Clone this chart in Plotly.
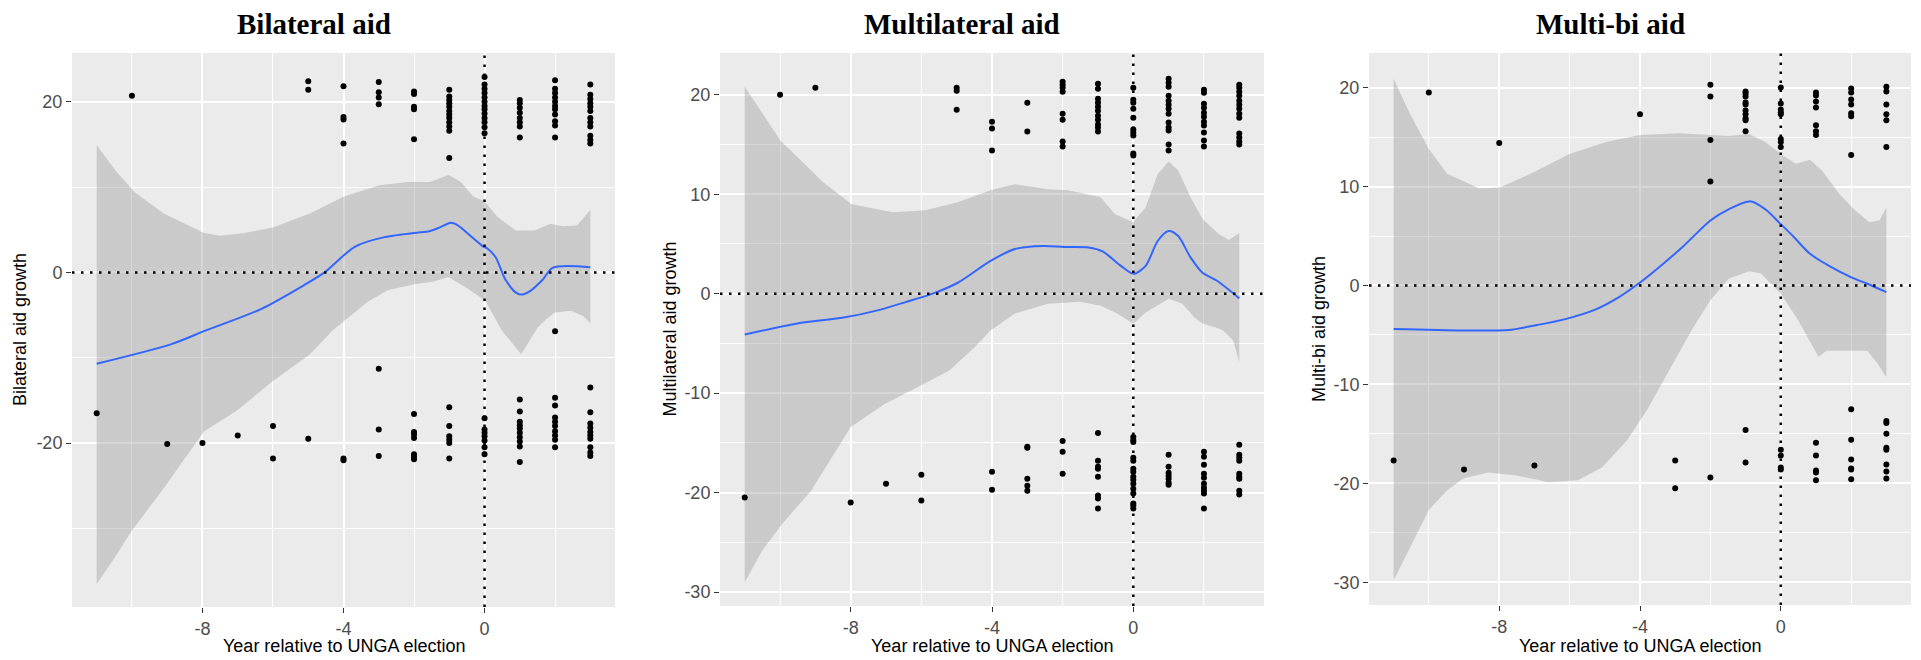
import plotly.graph_objects as go

# ---------------- DATA ----------------
years = [-11, -10, -9, -8, -7, -6, -5, -4, -3, -2, -1, 0, 1, 2, 3]

# Bilateral aid: observed growth by year (top cluster + bottom cluster)
bi_vals = [
    [-16.5],
    [20.7],
    [-20.1],
    [-20.0],
    [-19.1],
    [-18.0, -21.8],
    [22.4, 21.4, -19.5],
    [21.8, 18.2, 17.9, 15.1, -21.8, -22.0],
    [22.3, 21.1, 20.5, 19.7, -11.3, -18.4, -21.5],
    [21.2, 20.9, 19.4, 19.1, 15.6, -16.6, -18.7, -19.0, -19.4, -21.3, -21.6, -21.9],
    [21.4, 20.6, 20.2, 19.8, 19.4, 18.9, 18.5, 18.1, 17.6, 17.1, 16.6, 13.4,
     -15.8, -18.0, -19.2, -19.6, -20.0, -21.8],
    [22.9, 22.0, 21.5, 21.0, 20.5, 20.0, 19.5, 19.1, 18.6, 18.1, 17.6, 17.0, 16.3,
     -17.1, -18.4, -18.8, -19.2, -19.7, -20.5, -21.3],
    [20.2, 19.8, 19.3, 18.7, 18.1, 17.6, 17.1, 15.8,
     -14.9, -16.3, -17.5, -17.9, -18.3, -18.8, -19.3, -19.8, -20.4, -22.2],
    [22.5, 21.5, 21.0, 20.5, 20.0, 19.5, 19.1, 18.5, 17.7, 17.2, 15.8,
     -6.9, -14.7, -15.6, -17.0, -17.5, -18.0, -18.6, -19.1, -19.6, -20.5],
    [22.0, 20.8, 20.3, 19.8, 19.4, 18.9, 18.1, 17.6, 17.1, 16.0, 15.5, 15.1,
     -13.5, -16.4, -17.7, -18.2, -18.7, -19.1, -19.5, -20.5, -21.1, -21.5],
]
bi_fit_x = [-11, -8.88, -7.9, -6.34, -5.12, -4.54, -3.68, -2.87, -1.83, -1.59, -1.25, -0.96,
            -0.79, -0.32, -0.03, 0.08, 0.31, 0.6, 0.9, 1.07, 1.29, 1.64, 1.94, 3.0]
bi_fit_y = [-10.7, -8.4, -6.8, -4.3, -1.5, 0.0, 3.0, 4.1, 4.7, 4.8, 5.3, 5.8,
            5.6, 4.0, 3.0, 2.8, 1.8, -0.9, -2.4, -2.6, -2.2, -0.9, 0.55, 0.6]
bi_up_x = [-11, -10.44, -9.92, -9.1, -7.95, -7.5, -6.8, -5.99, -4.95, -3.99, -2.98, -2.17,
           -1.54, -1.02, -0.67, -0.32, 0, 0.37, 0.89, 1.41, 1.87, 2.22, 2.62, 3.0]
bi_up_y = [14.9, 11.8, 9.4, 6.9, 4.6, 4.3, 4.6, 5.3, 6.9, 8.9, 10.2, 10.6,
           10.6, 11.4, 10.6, 8.9, 8.3, 6.5, 4.9, 4.9, 5.7, 5.4, 5.5, 7.3]
bi_lo_x = [-11, -10.5, -10.03, -9.1, -7.95, -7.03, -5.99, -4.95, -4.31, -3.97, -3.33, -2.75,
           -1.99, -1.48, -1.02, -0.55, 0.02, 0.49, 1.04, 1.5, 1.75, 1.99, 2.45, 2.8, 3.0]
bi_lo_y = [-36.5, -33.5, -30.4, -25.3, -18.6, -16.2, -12.7, -9.6, -6.8, -5.6, -3.5, -2.1,
           -1.4, -1.1, -0.55, -1.7, -3.3, -6.8, -9.6, -6.5, -5.5, -4.7, -4.5, -5.1, -6.0]

# Multilateral aid
mu_vals = [
    [-20.5],
    [20.0],
    [20.7],
    [-21.0],
    [-19.1],
    [-18.2, -20.8],
    [20.7, 20.4, 18.5],
    [17.3, 16.6, 14.4, -17.9, -19.7],
    [19.2, 16.3, -15.4, -15.5, -18.6, -19.3, -19.8],
    [21.3, 21.0, 20.7, 20.3, 18.1, 17.5, 15.3, 14.8, -14.8, -15.9, -18.1],
    [21.1, 20.6, 19.6, 19.2, 18.8, 18.4, 17.9, 17.5, 17.0, 16.7, 16.3,
     -14.0, -16.8, -17.4, -17.6, -18.4, -20.3, -20.6, -21.6],
    [20.7, 19.5, 19.2, 18.6, 17.7, 16.5, 16.2, 15.9, 14.1, 13.9,
     -14.4, -14.7, -14.9, -16.5, -16.8, -17.6, -17.9, -18.4, -18.7, -19.1, -19.6, -20.1,
     -21.1, -21.3, -21.6],
    [21.6, 21.2, 20.8, 19.9, 19.4, 19.0, 18.6, 18.1, 17.2, 16.7, 16.4, 15.0, 14.4,
     -16.2, -17.4, -18.0, -18.3, -18.6, -19.0, -19.2],
    [20.5, 20.2, 19.1, 18.7, 18.2, 17.8, 17.3, 16.9, 16.2, 15.4, 14.8,
     -15.9, -16.4, -17.2, -18.1, -18.5, -19.1, -19.5, -19.8, -20.1, -21.6],
    [21.0, 20.7, 20.3, 19.9, 19.4, 19.0, 18.6, 18.1, 17.7, 16.1, 15.7, 15.3, 15.0,
     -15.2, -16.2, -16.5, -16.8, -18.1, -18.4, -18.6, -19.8, -20.2],
]
mu_fit_x = [-11, -9.35, -8.2, -7.27, -6.47, -5.66, -4.97, -4.04, -3.35, -2.54, -1.96, -1.27,
            -0.87, -0.35, 0, 0.35, 0.69, 1.0, 1.27, 1.62, 1.96, 2.37, 3.0]
mu_fit_y = [-4.1, -2.9, -2.4, -1.7, -0.87, 0.03, 1.1, 3.3, 4.5, 4.8, 4.7, 4.65,
            4.25, 2.8, 2.0, 2.8, 5.3, 6.3, 5.8, 3.65, 2.1, 1.3, -0.47]
mu_up_x = [-11, -10.5, -9.99, -9.35, -8.78, -7.97, -6.81, -5.89, -4.97, -4.04, -3.35, -2.42,
           -1.85, -0.92, -0.52, 0, 0.35, 0.69, 1.0, 1.27, 1.62, 1.96, 2.42, 2.71, 3.0]
mu_up_y = [20.8, 18.1, 15.4, 13.2, 11.2, 9.0, 8.2, 8.4, 9.2, 10.4, 11.0, 10.5,
           10.4, 9.7, 8.0, 7.2, 8.7, 12.0, 13.3, 12.4, 9.7, 7.5, 6.0, 5.4, 6.1]
mu_lo_x = [-11, -10.5, -9.93, -9.12, -8.0, -7.04, -6.0, -5.2, -4.5, -4.04, -3.35, -2.42,
           -1.5, -0.92, -0.46, 0, 0.35, 1.0, 1.39, 1.73, 1.96, 2.42, 2.54, 2.83, 3.0]
mu_lo_y = [-29.0, -25.8, -23.1, -19.8, -13.4, -11.1, -9.2, -7.7, -5.4, -3.7, -2.0, -1.0,
           -0.8, -1.2, -2.0, -3.0, -1.9, -0.5, -1.0, -2.4, -3.0, -3.5, -3.7, -4.7, -6.9]

# Multi-bi aid
mb_vals = [
    [-17.7],
    [19.5],
    [-18.6],
    [14.4],
    [-18.2],
    [],
    [],
    [17.3],
    [-17.7, -20.5],
    [20.3, 19.1, 14.7, 10.5, -19.4],
    [19.6, 19.4, 19.1, 18.5, 18.3, 17.7, 17.3, 16.9, 16.7, 15.6, -14.6, -17.9],
    [20.0, 18.4, 17.8, 17.5, 17.3, 14.8, 14.5, 14.0, -16.6, -17.2, -18.4, -18.6],
    [19.5, 19.2, 18.6, 18.0, 16.2, 15.6, 15.2, -15.9, -17.2, -18.7, -18.9, -19.7],
    [19.9, 19.5, 18.8, 18.3, 17.4, 17.1, 13.2, -12.5, -15.6, -17.6, -18.5, -18.6, -19.6],
    [20.1, 19.6, 18.3, 17.3, 16.7, 14.0, -13.7, -13.9, -15.0, -16.4, -16.6, -18.1,
     -18.8, -19.5],
]
mb_fit_x = [-11, -9.02, -7.74, -6.93, -6.12, -5.31, -4.61, -4.0, -3.34, -2.76, -1.99, -1.48,
            -0.85, -0.44, 0, 0.37, 0.83, 1.41, 1.99, 2.46, 3.0]
mb_fit_y = [-4.4, -4.55, -4.5, -4.0, -3.4, -2.5, -1.2, 0.3, 2.2, 4.0, 6.6, 7.7,
            8.5, 7.7, 6.2, 4.9, 3.2, 1.9, 0.84, 0.17, -0.68]
mb_up_x = [-11, -10.53, -10.0, -9.48, -8.56, -7.98, -7.05, -6.0, -4.96, -4.0, -2.88, -1.95,
           -1.48, -0.9, -0.44, 0, 0.43, 0.83, 1.18, 1.65, 2.11, 2.52, 2.81, 3.0]
mb_up_y = [20.9, 17.3, 13.8, 11.3, 9.8, 9.9, 11.4, 13.3, 14.5, 15.2, 15.4, 15.2,
           15.1, 15.3, 14.5, 13.3, 12.3, 12.7, 11.6, 9.3, 7.6, 6.4, 6.6, 7.9]
mb_lo_x = [-11, -10.53, -10.0, -9.48, -9.02, -8.32, -7.51, -6.59, -5.77, -5.08, -4.38, -3.8,
           -3.22, -2.53, -2.0, -1.48, -0.9, -0.56, 0, 0.49, 0.66, 1.07, 1.3, 1.65, 1.99, 2.46,
           2.75, 3.0]
mb_lo_y = [-29.8, -26.4, -22.7, -20.7, -19.5, -18.9, -19.2, -19.9, -19.7, -18.4, -15.7, -12.6,
           -8.9, -4.5, -1.5, 0.68, 1.45, 1.2, -0.84, -3.5, -4.5, -7.2, -6.6, -6.6, -6.6, -6.6,
           -7.9, -9.3]

titles = ["Bilateral aid", "Multilateral aid", "Multi-bi aid"]
ytitles = ["Bilateral aid growth", "Multilateral aid growth", "Multi-bi aid growth"]
xtitle = "Year relative to UNGA election"
x_ticks = [-8, -4, 0]
x_ticklabels = ["-8", "-4", "0"]
x_minor = [-10, -6, -2, 2]
y_ticks = [[-20, 0, 20], [-30, -20, -10, 0, 10, 20], [-30, -20, -10, 0, 10, 20]]
y_ticklabels = [["-20", "0", "20"], ["-30", "-20", "-10", "0", "10", "20"],
                ["-30", "-20", "-10", "0", "10", "20"]]
y_minor = [[-30, -10, 10], [-25, -15, -5, 5, 15], [-25, -15, -5, 5, 15]]

# ---------------- LAYOUT ----------------
W, H = 1921, 660
panels = [
    dict(px=(72, 615), py=(53, 607), yr=[-39.2, 25.7], ytx=20),
    dict(px=(720, 1264), py=(53, 606), yr=[-31.4, 24.2], ytx=669),
    dict(px=(1369, 1911), py=(53, 605), yr=[-32.3, 23.5], ytx=1319),
]
title_cx = [314, 962, 1610]

datasets = [
    (bi_vals, bi_fit_x, bi_fit_y, bi_up_x, bi_up_y, bi_lo_x, bi_lo_y),
    (mu_vals, mu_fit_x, mu_fit_y, mu_up_x, mu_up_y, mu_lo_x, mu_lo_y),
    (mb_vals, mb_fit_x, mb_fit_y, mb_up_x, mb_up_y, mb_lo_x, mb_lo_y),
]

fig = go.Figure()
annotations = []
shapes = []
FONT = "Liberation Sans, Arial, sans-serif"

for i, (vals, fx, fy, ux, uy, lx, ly) in enumerate(datasets):
    sfx = "" if i == 0 else str(i + 1)
    xa, ya = "x" + sfx, "y" + sfx
    p = panels[i]
    # ribbon
    fig.add_trace(go.Scatter(
        x=ux + lx[::-1], y=uy + ly[::-1], fill="toself",
        fillcolor="rgba(153,153,153,0.4)", line=dict(width=0), mode="lines",
        hoverinfo="skip", showlegend=False, xaxis=xa, yaxis=ya))
    # points
    px_, py_ = [], []
    for yr_, v in zip(years, vals):
        for val in v:
            px_.append(yr_)
            py_.append(val)
    fig.add_trace(go.Scatter(
        x=px_, y=py_, mode="markers", marker=dict(color="black", size=6),
        showlegend=False, xaxis=xa, yaxis=ya))
    # fit line
    fig.add_trace(go.Scatter(
        x=fx, y=fy, mode="lines", line=dict(color="#3366FF", width=2, shape="spline", smoothing=0.8),
        showlegend=False, xaxis=xa, yaxis=ya))

    axis_common = dict(
        showline=False, zeroline=False, ticks="outside", ticklen=5, tickwidth=1.2,
        tickcolor="#333333", showgrid=True, gridcolor="white", gridwidth=1.6,
        tickfont=dict(family=FONT, size=18, color="#4D4D4D"),
    )
    fig.update_layout({
        "xaxis" + sfx: dict(
            axis_common, domain=[p["px"][0] / W, p["px"][1] / W], anchor=ya,
            range=[-11.7, 3.7], tickmode="array", tickvals=x_ticks, ticktext=x_ticklabels,
            minor=dict(tickmode="array", tickvals=x_minor, showgrid=True,
                       gridcolor="white", gridwidth=0.8, ticks=""),
        ),
        "yaxis" + sfx: dict(
            axis_common, domain=[1 - p["py"][1] / H, 1 - p["py"][0] / H], anchor=xa,
            range=p["yr"], tickmode="array", tickvals=y_ticks[i], ticktext=y_ticklabels[i],
            minor=dict(tickmode="array", tickvals=y_minor[i], showgrid=True,
                       gridcolor="white", gridwidth=0.8, ticks=""),
        ),
    })
    dot = dict(color="black", width=2.5, dash="2.5px,6.5px")
    shapes.append(dict(type="line", xref=xa + " domain", x0=0, x1=1, yref=ya, y0=0, y1=0,
                       line=dot, layer="above"))
    shapes.append(dict(type="line", xref=xa, x0=0, x1=0, yref=ya + " domain", y0=0, y1=1,
                       line=dot, layer="above"))
    # titles
    annotations.append(dict(
        text="<b>" + titles[i] + "</b>", xref="paper", yref="paper",
        x=title_cx[i] / W, y=1 - 24 / H, xanchor="center", yanchor="middle",
        showarrow=False, font=dict(family="Liberation Serif, Times New Roman, serif",
                                   size=29, color="black")))
    annotations.append(dict(
        text=ytitles[i], xref="paper", yref="paper", textangle=-90,
        x=p["ytx"] / W, y=1 - ((p["py"][0] + p["py"][1]) / 2) / H,
        xanchor="center", yanchor="middle", showarrow=False,
        font=dict(family=FONT, size=18, color="black")))
    annotations.append(dict(
        text=xtitle, xref="paper", yref="paper",
        x=((p["px"][0] + p["px"][1]) / 2) / W, y=1 - 646 / H,
        xanchor="center", yanchor="middle", showarrow=False,
        font=dict(family=FONT, size=18, color="black")))

fig.update_layout(
    width=W, height=H, margin=dict(l=0, r=0, t=0, b=0),
    paper_bgcolor="white", plot_bgcolor="#EBEBEB",
    annotations=annotations, shapes=shapes, showlegend=False,
)

fig.write_html("out.html", config={"displayModeBar": False},
               post_script="document.body.style.margin='0';document.body.style.overflow='hidden';")
